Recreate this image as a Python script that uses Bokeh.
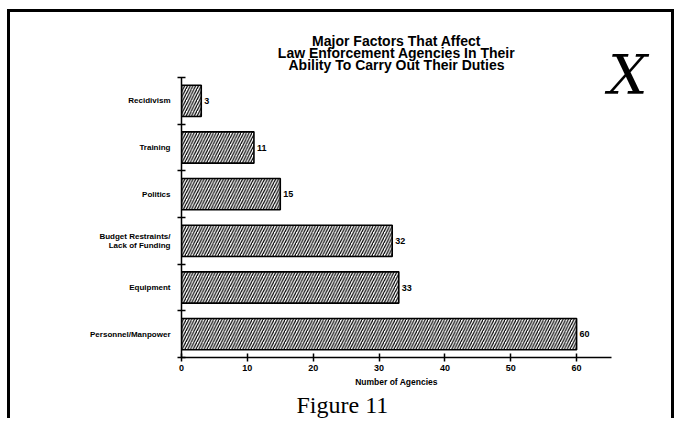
from bokeh.plotting import figure
from bokeh.models import Range1d, FixedTicker, Title
from bokeh.core.properties import value
from bokeh.embed import file_html
from bokeh.resources import INLINE

# ---- data (top to bottom as in the chart) ----
categories = ["Recidivism", "Training", "Politics",
              "Budget Restraints/\nLack of Funding", "Equipment",
              "Personnel/Manpower"]
agencies = [3, 11, 15, 32, 33, 60]
x_ticks = [0, 10, 20, 30, 40, 50, 60]
title_lines = ["Major Factors That Affect",
               "Law Enforcement Agencies In Their",
               "Ability To Carry Out Their Duties"]
x_label = "Number of Agencies"
caption = "Figure 11"
mark = "X"

positions = list(range(1, len(categories) + 1))
boundaries = [p - 0.5 for p in positions] + [positions[-1] + 0.5]

FONT = "Liberation Sans"

p = figure(width=667, height=409, output_backend="svg", toolbar_location=None,
           x_range=Range1d(0, 65.3),
           y_range=Range1d(positions[-1] + 0.5, positions[0] - 0.5),
           min_border_left=171, min_border_right=66,
           min_border_top=65, min_border_bottom=64)
p.styles = {"margin-left": "7px", "margin-top": "9px",
            "border-left": "3px solid black", "border-top": "3px solid black",
            "border-right": "3px solid black"}

# handwritten mark (nearest row, collapsed height)
p.add_layout(Title(text=mark, align="right", offset=-36,
                   text_font="DejaVu Serif", text_font_style="italic",
                   text_font_size="55px", text_color="black",
                   standoff=-58.5), "above")
# title lines: first added sits nearest the frame
for line in reversed(title_lines):
    p.add_layout(Title(text=line, align="center", text_font=FONT,
                       text_font_size="14px", text_font_style="bold",
                       text_color="black", standoff=-6), "above")

p.hbar(y=positions, right=agencies, left=0, height=0.67,
       fill_color="white", line_color="black", line_width=1.6,
       hatch_pattern="right_diagonal_line", hatch_color="black",
       hatch_weight=1.2, hatch_scale=5.5)

p.text(x=agencies, y=positions, text=[str(v) for v in agencies],
       x_offset=3, text_baseline="middle", text_align="left",
       text_font=value(FONT), text_font_style="bold", text_font_size="9px",
       text_color="black")

p.xgrid.visible = False
p.ygrid.visible = False
p.outline_line_color = None

xa = p.xaxis[0]
xa.ticker = FixedTicker(ticks=x_ticks)
xa.major_tick_in = 4
xa.major_tick_out = 4
xa.minor_tick_line_color = None
xa.axis_line_width = 1.5
xa.major_tick_line_width = 1.5
xa.major_label_text_font = FONT
xa.major_label_text_font_style = "bold"
xa.major_label_text_font_size = "9px"
xa.major_label_text_color = "black"
xa.major_label_standoff = 3
xa.axis_label = x_label
xa.axis_label_text_font = FONT
xa.axis_label_text_font_style = "bold"
xa.axis_label_text_font_size = "8.5px"
xa.axis_label_text_color = "black"
xa.axis_label_standoff = 3

ya = p.yaxis[0]
ya.ticker = FixedTicker(ticks=positions, minor_ticks=boundaries)
ya.major_label_overrides = {pos: lab for pos, lab in zip(positions, categories)}
ya.major_tick_line_color = None
ya.major_tick_in = 0
ya.major_tick_out = 0
ya.minor_tick_in = 4
ya.minor_tick_out = 4
ya.minor_tick_line_width = 1.5
ya.axis_line_width = 1.5
ya.major_label_text_font = FONT
ya.major_label_text_font_style = "bold"
ya.major_label_text_font_size = "8px"
ya.major_label_text_color = "black"
ya.major_label_text_line_height = 1.0
ya.major_label_standoff = 7

p.add_layout(Title(text=caption, align="left", offset=115,
                   text_font="Liberation Serif", text_font_size="24px",
                   text_font_style="normal", text_color="black", standoff=0),
             "below")

open("out.html", "w").write(file_html(p, INLINE))
